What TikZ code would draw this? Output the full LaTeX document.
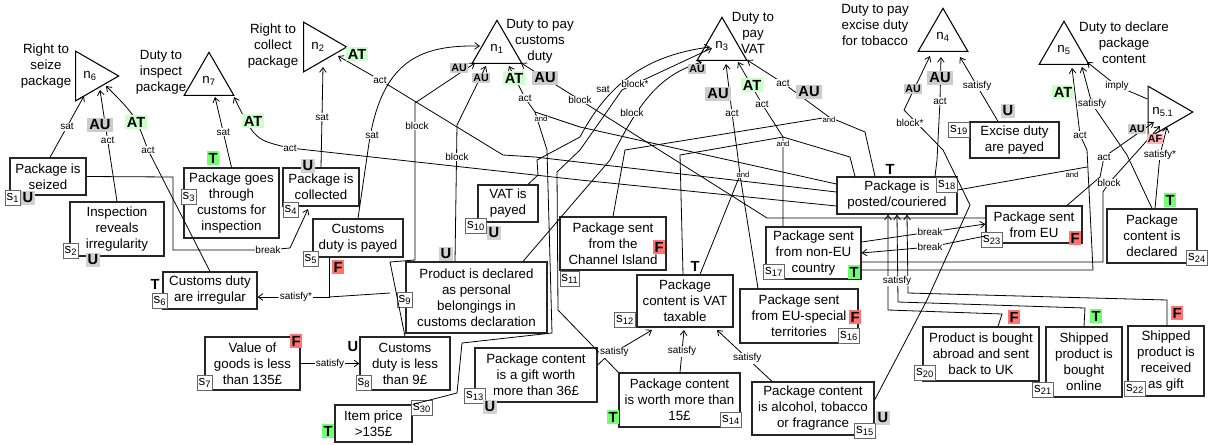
\documentclass[tikz,border=0pt]{standalone}
\usepackage{fontspec}
\setmainfont{Liberation Sans}
\usetikzlibrary{shapes.geometric,arrows.meta,fit,calc}
\begin{document}
\begin{tikzpicture}[x=0.75pt,y=-0.75pt,
  every node/.style={font=\fontsize{10}{12}\selectfont},
  stmt/.style={draw=black!85, line width=0.9pt, align=center, inner sep=0pt},
  tagbox/.style={draw=black!60, fill=white, line width=0.8pt, inner sep=1pt,
     minimum width=11pt, minimum height=11pt, font=\fontsize{10}{10}\selectfont},
  upnorm/.style={draw, line width=0.8pt, regular polygon, regular polygon sides=3,
     minimum size=43pt, inner sep=0pt, font=\fontsize{10}{10}\selectfont},
  rightnorm/.style={upnorm, regular polygon rotate=-90},
  normtext/.style={align=center, font=\fontsize{10}{12}\selectfont},
  lbl/.style={fill=white, inner sep=0.6pt, font=\fontsize{7.5}{8}\selectfont},
  andlbl/.style={fill=white, inner sep=0.4pt, font=\fontsize{5.8}{6}\selectfont},
  edge/.style={line width=0.6pt, -{Straight Barb[length=3.5pt,width=5pt]}},
  plain/.style={line width=0.6pt},
  tv/.style={font=\bfseries\fontsize{11}{11}\selectfont, inner sep=1.5pt},
  smallau/.style={font=\bfseries\fontsize{8}{8}\selectfont, inner sep=1pt},
  Tg/.style={tv, fill=green!55!white},
  Fr/.style={tv, fill=red!55!white},
  Ug/.style={tv, fill=black!18},
  ATg/.style={tv, fill=green!20!white},
  AUg/.style={tv, fill=black!20},
]
\useasboundingbox (0,0) rectangle (1208,444);

% ---------------- norms ----------------
\node[rightnorm] (n6) at (90,76) {n\textsubscript{6}};
\node[normtext] at (46,66) {Right to\\seize\\package};
\node[upnorm] (n7) at (209,81) {n\textsubscript{7}};
\node[normtext] at (161,72) {Duty to\\inspect\\package};
\node[rightnorm] (n2) at (318,47) {n\textsubscript{2}};
\node[normtext] at (273,46) {Right to\\collect\\package};
\node[upnorm] (n1) at (497,49) {n\textsubscript{1}};
\node[normtext] at (540,41) {Duty to pay\\customs\\duty};
\node[upnorm] (n3) at (722,46) {n\textsubscript{3}};
\node[normtext] at (753,33) {Duty to\\pay\\VAT};
\node[upnorm] (n4) at (943,37) {n\textsubscript{4}};
\node[normtext] at (875,25) {Duty to pay\\excise duty\\for tobacco};
\node[upnorm] (n5) at (1064,50) {n\textsubscript{5}};
\node[normtext] at (1124,43) {Duty to declare\\package\\content};
\node[rightnorm, minimum size=29pt] (n51) at (1163,112) {n\textsubscript{5.1}};

% ---------------- statements ----------------
\node[stmt, fit={(10,158) (86,195)}] (s1) {};
\node at (s1.center) [align=center] {Package is\\seized};
\node[tagbox] at (13,198) {s\textsubscript{1}};
\node[Ug] at (28,198) {U};

\node[stmt, fit={(70,202) (164,256)}] (s2) {};
\node at (s2.center) [align=center] {Inspection\\reveals\\irregularity};
\node[tagbox] at (71,251) {s\textsubscript{2}};
\node[Ug] at (93,260) {U};

\node[stmt, fit={(184,168) (279,238)}] (s3) {};
\node at (s3.center) [align=center] {Package goes\\through\\customs for\\inspection};
\node[tagbox] at (189,197) {s\textsubscript{3}};
\node[Tg] at (213,158) {T};

\node[stmt, fit={(283,168) (359,206)}] (s4) {};
\node at (s4.center) [align=center] {Package is\\collected};
\node[tagbox] at (291,210) {s\textsubscript{4}};
\node[Ug] at (308,166) {U};

\node[stmt, fit={(313,219) (403,257)}] (s5) {};
\node at (s5.center) [align=center] {Customs\\duty is payed};
\node[tagbox] at (311,259) {s\textsubscript{5}};
\node[Fr] at (338,267) {F};

\node[stmt, fit={(163,272) (257,309)}] (s6) {};
\node at (s6.center) [align=center] {Customs duty\\are irregular};
\node[tagbox] at (160,301) {s\textsubscript{6}};
\node[tv] at (155,284) {T};

\node[stmt, fit={(205,337) (300,390)}] (s7) {};
\node at (s7.center) [align=center] {Value of\\goods is less\\than 135£};
\node[tagbox] at (205,383) {s\textsubscript{7}};
\node[Fr] at (296,341) {F};

\node[stmt, fit={(360,337) (450,390)}] (s8) {};
\node at (s8.center) [align=center] {Customs\\duty is less\\than 9£};
\node[tagbox] at (364,383) {s\textsubscript{8}};
\node[tv] at (353,347) {U};

\node[stmt, fit={(406,262) (547,333)}] (s9) {};
\node at (s9.center) [align=center] {Product is declared\\as personal\\belongings in\\customs declaration};
\node[tagbox] at (405,300) {s\textsubscript{9}};
\node[Ug] at (446,254) {U};

\node[stmt, fit={(478,185) (538,222)}] (s10) {};
\node at (s10.center) [align=center] {VAT is\\payed};
\node[tagbox] at (476,226) {s\textsubscript{10}};
\node[Ug] at (494,233) {U};

\node[stmt, fit={(560,217) (666,270)}] (s11) {};
\node at (s11.center) [align=center] {Package sent\\from the\\Channel Island};
\node[tagbox] at (570,279) {s\textsubscript{11}};
\node[Fr] at (659,247) {F};

\node[stmt, fit={(637,275) (733,327)}] (s12) {};
\node at (s12.center) [align=center] {Package\\content is VAT\\taxable};
\node[tagbox] at (625,320) {s\textsubscript{12}};
\node[tv] at (695,266) {T};

\node[stmt, fit={(475,348) (597,402)}] (s13) {};
\node at (s13.center) [align=center] {Package content\\is a gift worth\\more than 36£};
\node[tagbox] at (475,396) {s\textsubscript{13}};
\node[Ug] at (490,407) {U};

\node[stmt, fit={(619,373) (740,427)}] (s14) {};
\node at (s14.center) [align=center] {Package content\\is worth more than\\15£};
\node[tagbox] at (731,420) {s\textsubscript{14}};
\node[Tg] at (613,417) {T};

\node[stmt, fit={(752,382) (874,435)}] (s15) {};
\node at (s15.center) [align=center] {Package content\\is alcohol, tobacco\\or fragrance};
\node[tagbox] at (865,431) {s\textsubscript{15}};
\node[Ug] at (883,418) {U};

\node[stmt, fit={(740,289) (858,343)}] (s16) {};
\node at (s16.center) [align=center] {Package sent\\from EU-special\\territories};
\node[tagbox] at (849,336) {s\textsubscript{16}};
\node[Fr] at (855,317) {F};

\node[stmt, fit={(766,227) (861,279)}] (s17) {};
\node at (s17.center) [align=center] {Package sent\\from non-EU\\country};
\node[tagbox] at (774,272) {s\textsubscript{17}};
\node[Tg] at (854,272) {T};

\node[stmt, fit={(837,177) (957,214)}] (s18) {};
\node at (s18.center) [align=center] {Package is\\posted/couriered};
\node[tagbox] at (947,185) {s\textsubscript{18}};
\node[tv] at (890,169) {T};

\node[stmt, fit={(970,122) (1059,158)}] (s19) {};
\node at (s19.center) [align=center] {Excise duty\\are payed};
\node[tagbox] at (959,130) {s\textsubscript{19}};
\node[Ug] at (1008,111) {U};

\node[stmt, fit={(923,327) (1039,381)}] (s20) {};
\node at (s20.center) [align=center] {Product is bought\\abroad and sent\\back to UK};
\node[tagbox] at (925,373) {s\textsubscript{20}};
\node[Fr] at (1014,317) {F};

\node[stmt, fit={(1046,327) (1122,397)}] (s21) {};
\node at (s21.center) [align=center] {Shipped\\product is\\bought\\online};
\node[tagbox] at (1043,390) {s\textsubscript{21}};
\node[Tg] at (1096,316) {T};

\node[stmt, fit={(1128,326) (1204,396)}] (s22) {};
\node at (s22.center) [align=center] {Shipped\\product is\\received\\as gift};
\node[tagbox] at (1135,389) {s\textsubscript{22}};
\node[Fr] at (1177,313) {F};

\node[stmt, fit={(986,206) (1082,243)}] (s23) {};
\node at (s23.center) [align=center] {Package sent\\from EU};
\node[tagbox] at (992,240) {s\textsubscript{23}};
\node[Fr] at (1075,238) {F};

\node[stmt, fit={(1107,209) (1197,263)}] (s24) {};
\node at (s24.center) [align=center] {Package\\content is\\declared};
\node[tagbox] at (1197,258) {s\textsubscript{24}};
\node[Tg] at (1170,200) {T};

\node[stmt, fit={(335,405) (412,442)}] (s30) {};
\node at (s30.center) [align=center] {Item price\\>135£};
\node[tagbox] at (422,408) {s\textsubscript{30}};
\node[Tg] at (328,431) {T};

% ---------------- connectors ----------------
% n6
\draw[edge] (s1.north -| 50,0) -- node[lbl]{sat} (84,96);
\draw[edge] (s2.north) -- node[lbl, pos=0.55]{act} (100,90);
\node[AUg] at (100,125) {AU};
\draw[edge] (s6.north) -- (148,150) node[lbl]{act} .. controls (135,115) .. (106,86);
\node[ATg] at (136,122) {AT};
% n7
\draw[edge] (s3.north) -- node[lbl]{sat} (215,97);
\draw[edge] (s18.west |- 0,206) -- (580,180) -- (290,148) node[lbl]{act} .. controls (255,140) .. (234,97);
\node[ATg] at (253,121) {AT};
% n2
\draw[edge] (s4.north) -- node[lbl]{sat} (323,67);
\draw[edge] (s18.west |- 0,192) -- (535,157) -- (503,155) -- (380,80) node[lbl]{act} -- (338,56);
\node[ATg] at (357,54) {AT};
% n1
\draw[edge] (s5.north) -- (368,150) .. controls (380,60) and (420,45) .. (480,46);
\node[lbl] at (372,135) {sat};
\draw[edge] (s8.north) -- (390,262) -- (415,260) -- (415,103) -- (475,63);
\node[lbl] at (417,126) {block};
\node[AUg, smallau] at (459,68) {AU};
\draw[edge] (s9.north -| 455,0) -- (457,125) -- (486,66);
\node[lbl] at (457,157) {block};
\node[AUg, smallau] at (481,78) {AU};
\draw[edge] (535,112) -- (525,98) node[lbl]{act} -- (509,66);
\draw[plain] (s18.west |- 0,184) -- (580,127) -- (535,112);
\draw[plain] (s30.north east) -- (457,393) -- (462,343) -- (552,333) -- (547,150) -- (535,112);
\node[andlbl] at (541,119) {and};
\node[ATg] at (514,78) {AT};
\draw[edge] (s23.west |- 0,218) -- (767,218) -- (580,100) node[lbl]{block} -- (521,63);
\node[AUg] at (545,78) {AU};
% n3
\draw[edge] (s10.north -| 528,0) -- (538,175) -- (537,160) -- (580,137) .. controls (610,80) and (650,55) .. (710,47);
\node[lbl] at (603,89) {sat};
\draw[edge] (s9.north -| 523,0) -- (610,160) .. controls (640,100) and (660,75) .. (702,62);
\node[lbl] at (632,113) {block};
\node[AUg, smallau] at (697,69) {AU};
\draw[edge] (s14.north west) -- (558,310) -- (557,172) -- (580,150) -- (622,90) -- (712,48);
\node[lbl] at (635,84) {block*};
% n3 activations
\draw[edge] (740,175) -- (737,150) -- (732,113) node[lbl]{act} -- (726,64);
\node[AUg] at (718,94) {AU};
\draw[plain] (s12.north -| 700,0) -- (740,175) -- (s16.north -| 758,0);
\node[andlbl] at (743,175) {and};
\draw[edge] (783,137) -- (762,104) node[lbl]{act} -- (738,62);
\node[ATg] at (752,85) {AT};
\draw[plain] (s12.north -| 683,0) -- (680,155) -- (783,137) -- (s17.north -| 783,0);
\draw[plain] (783,137) -- (850,157) -- (s18.north -| 855,0);
\node[andlbl] at (783,144) {and};
\draw[edge] (829,117) -- (783,83) node[lbl]{act} -- (747,60);
\node[AUg] at (809,92) {AU};
\draw[plain] (s11.north -| 613,0) -- (625,150) -- (829,117) -- (865,132) -- (s18.north -| 875,0);
\node[andlbl] at (829,120) {and};
% n4
\draw[edge] (s15.east |- 0,400) -- (927,300) -- (970,205) -- (943,150) -- (904,110) -- (930,56);
\node[lbl] at (910,123) {block*};
\node[AUg, smallau] at (913,89) {AU};
\draw[edge] (s18.north -| 935,0) -- (937,160) -- (940,101) node[lbl]{act} -- (941,57);
\node[AUg] at (940,78) {AU};
\draw[edge] (s19.north -| 998,0) -- node[lbl, pos=0.55]{satisfy} (960,57);
% n5
\draw[edge] (s17.east |- 0,270) -- (1093,270) -- (1087,150) -- (1080,135) node[lbl]{act} -- (1072,68);
\node[ATg] at (1063,92) {AT};
\draw[plain] (s18.east |- 0,190) -- (1087,167);
\node[andlbl] at (1072,175) {and};
\draw[edge] (s24.north -| 1152,0) -- (1127,155) -- (1092,104) node[lbl]{satisfy} -- (1082,67);
\draw[edge] (n51.140) -- (1117,86) node[lbl]{imply} -- (1087,62);
% n5.1
\draw[edge] (s23.north -| 1067,0) -- (1100,177) -- (1104,157) node[lbl]{act} -- (1154,122);
\node[AUg, smallau] at (1137,129) {AU};
\draw[edge] (s17.east |- 0,262) -- (1103,262) -- (1103,192) -- (1109,183) node[lbl]{block} -- (1160,126);
\draw[edge] (s24.north -| 1155,0) -- (1160,155) node[lbl]{satisfy*} -- (1167,127);
\node[smallau, fill=red!30!white] at (1155,139) {AF};
% breaks
\draw[edge] (s17.east |- 0,242) -- (930,232) node[lbl]{break} -- (s23.west |- 0,224);
\draw[edge] (s23.west |- 0,236) -- (930,247) node[lbl]{break} -- (s17.east |- 0,253);
% satisfy into s18
\draw[edge] (s20.north -| 998,0) -- (1002,314) -- (888,310) -- (s18.south -| 888,0);
\draw[edge] (s21.north -| 1084,0) -- (1085,308) -- (898,302) -- (s18.south -| 897,0);
\draw[edge] (s22.north -| 1167,0) -- (1167,300) -- (908,293) -- (s18.south -| 907,0);
\node[lbl] at (897,281) {satisfy};
% s12 satisfied
\draw[edge] (s13.east |- 0,365) -- (605,358) -- node[lbl, pos=0.2]{satisfy} (652,330);
\draw[edge] (s14.north -| 680,0) -- node[lbl]{satisfy} (684,330);
\draw[edge] (s15.north -| 772,0) -- node[lbl, pos=0.45]{satisfy} (717,330);
% left-side breaks and satisfy
\draw[edge] (s1.east) -- (173,177) -- (173,250) -- (268,250) node[lbl]{break} -- (290,248) -- (308,209);
\draw[edge] (s5.south -| 329,0) -- (329,297) -- (296,297) node[lbl]{satisfy*} -- (s6.east |- 0,297);
\draw[plain] (329,297) -- (390,293);
\draw[edge] (s7.east) -- node[lbl]{satisfy} (s8.west);
\end{tikzpicture}
\end{document}
